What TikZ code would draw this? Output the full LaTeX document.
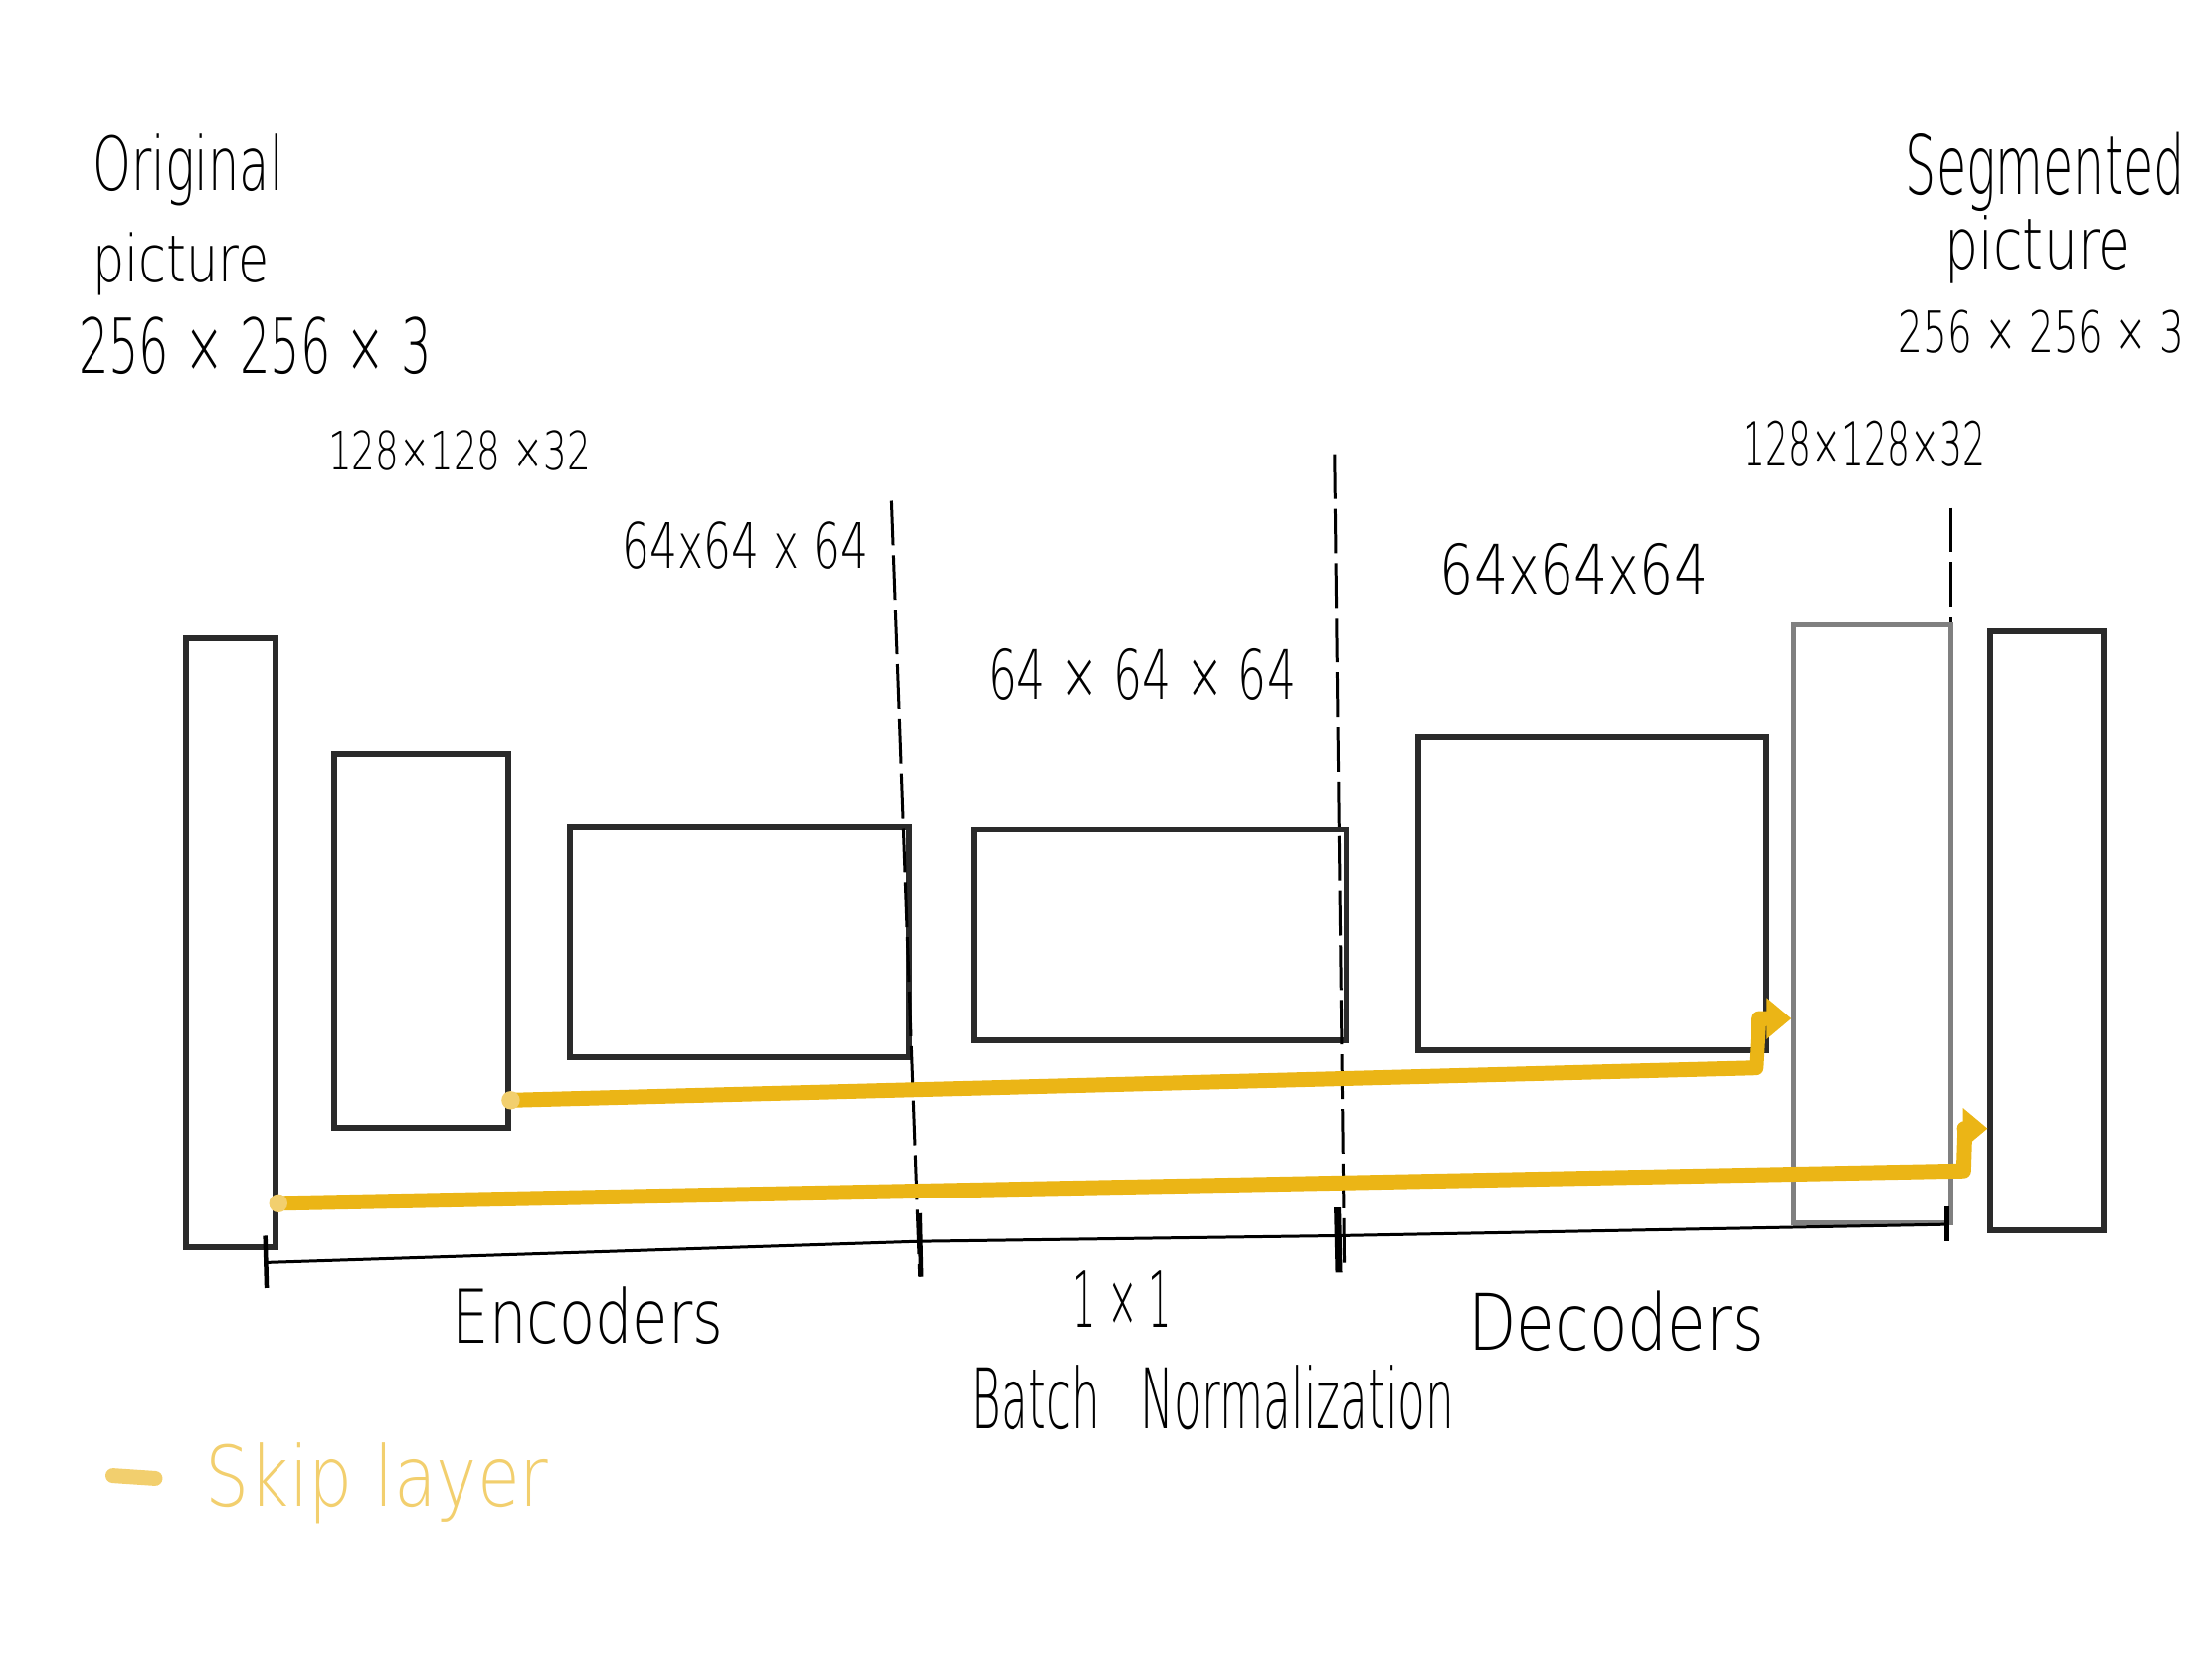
\documentclass[tikz,border=0pt]{standalone}
\usepackage{fontspec}
\setmainfont{DejaVu Sans ExtraLight}
\usetikzlibrary{arrows.meta,calc}
\definecolor{skipyellow}{HTML}{EBB516}
\definecolor{skiplight}{HTML}{F2CF6E}
\definecolor{pencil}{HTML}{2A2A2A}
\newcommand{\hw}[3]{\resizebox{#1cm}{#2cm}{#3}}
\begin{document}
\begin{tikzpicture}[x=0.01cm,y=-0.01cm,
  layerbox/.style={draw=pencil,line width=1.2pt,inner sep=0pt,anchor=north west},
  lightbox/.style={draw=black!50,line width=1pt,inner sep=0pt,anchor=north west},
  lbl/.style={inner sep=0pt,anchor=base west,text=black},
  sepline/.style={draw=black,line width=0.6pt,dash pattern=on 9pt off 2pt},
  axisline/.style={draw=black,line width=0.6pt},
  tickline/.style={draw=black,line width=0.9pt},
  skip/.style={draw=skipyellow,line width=3pt,line cap=round,line join=round},
  skiparrow/.style={skip,-{Triangle[length=5pt,width=8pt]}},
  startdot/.style={fill=skiplight,circle,inner sep=0pt,minimum size=0.13cm}]
\useasboundingbox (0,0) rectangle (1568,1176);

% texts
\node[lbl] (t1) at (65,135) {\hw{1.35}{0.40}{Original}};
\node[lbl] (t2) at (65,200) {\hw{1.25}{0.35}{picture}};
\node[lbl] (t3) at (55,265) {\hw{2.50}{0.40}{256 × 256 × 3}};
\node[lbl] (t4) at (232,333) {\hw{1.86}{0.28}{128×128 ×32}};
\node[lbl] (t5) at (440,403) {\hw{1.75}{0.33}{64x64 x 64}};
\node[lbl] (t6) at (700,496) {\hw{2.18}{0.36}{64 × 64 × 64}};
\node[lbl] (t7) at (1020,421) {\hw{1.90}{0.36}{64x64x64}};
\node[lbl] (t8) at (1235,330) {\hw{1.72}{0.32}{128×128×32}};
\node[lbl] (t9) at (1350,138) {\hw{1.98}{0.44}{Segmented}};
\node[lbl] (t10) at (1378,191) {\hw{1.32}{0.38}{picture}};
\node[lbl] (t11) at (1345,250) {\hw{2.03}{0.30}{256 × 256 × 3}};
\node[lbl] (t12) at (320,952) {\hw{1.92}{0.40}{Encoders}};
\node[lbl] (t13) at (760,941) {\hw{0.70}{0.40}{1\hspace{0.3em}×\hspace{0.3em}1}};
\node[lbl] (t14) at (1040,957) {\hw{2.10}{0.42}{Decoders}};
\node[lbl] (t15) at (688,1013) {\hw{3.42}{0.45}{Batch\hspace{0.9em}Normalization}};
\node[lbl,text=skiplight] (t16) at (145,1068) {\hw{2.43}{0.45}{Skip layer}};

% layer boxes
\node[layerbox,minimum width=0.63cm,minimum height=4.32cm] (A) at (130,450) {};
\node[layerbox,minimum width=1.23cm,minimum height=2.65cm] (B) at (235,532) {};
\node[layerbox,minimum width=2.40cm,minimum height=1.63cm] (C) at (402,584) {};
\node[layerbox,minimum width=2.64cm,minimum height=1.49cm] (D) at (688,586) {};
\node[layerbox,minimum width=2.47cm,minimum height=2.22cm] (E) at (1003,520) {};
\node[lightbox,minimum width=1.11cm,minimum height=4.24cm] (F) at (1270,441) {};
\node[layerbox,minimum width=0.80cm,minimum height=4.25cm] (G) at (1409,445) {};

% dashed separators
\coordinate (d1t) at (632,355); \coordinate (d1b) at (652,905);
\coordinate (d2t) at (946,322); \coordinate (d2b) at (953,902);
\coordinate (d3t) at (1383,360); \coordinate (d3b) at (1383,441);
\draw[sepline] (d1t) -- (d1b);
\draw[sepline] (d2t) -- (d2b);
\draw[sepline] (d3t) -- (d3b);

% bottom axis with ticks
\coordinate (ax0) at (188,895); \coordinate (ax1) at (652,880);
\coordinate (ax2) at (948,876); \coordinate (ax3) at (1380,868);
\draw[axisline] (ax0) -- (ax1) -- (ax2) -- (ax3);
\draw[tickline] ($(ax0)+(0,-19)$) -- ($(ax0)+(1,18)$);
\draw[tickline] ($(ax1)+(0,-20)$) -- ($(ax1)+(1,25)$);
\draw[tickline,line width=1.4pt] ($(ax2)+(0,-20)$) -- ($(ax2)+(1,26)$);
\draw[tickline] ($(ax3)+(0,-13)$) -- ($(ax3)+(0,12)$);

% skip connections
\coordinate (s1) at (362,780);
\coordinate (k1a) at (1245,757);
\coordinate (k1b) at (1247,722);
\draw[skiparrow] (s1) -- (k1a) -- (k1b) -- (F.west |- k1b);
\node[startdot] (dot1) at (s1) {};
\coordinate (s2) at (A.east |- 0,853);
\coordinate (k2a) at (1392,830);
\coordinate (k2b) at (1393,800);
\draw[skiparrow] (s2) -- (k2a) -- (k2b) -- (G.west |- k2b);
\node[startdot] (dot2) at (s2) {};

% legend
\coordinate (lg0) at (80,1046); \coordinate (lg1) at (110,1048);
\draw[draw=skiplight,line width=3pt,line cap=round] (lg0) -- (lg1);
\end{tikzpicture}
\end{document}
